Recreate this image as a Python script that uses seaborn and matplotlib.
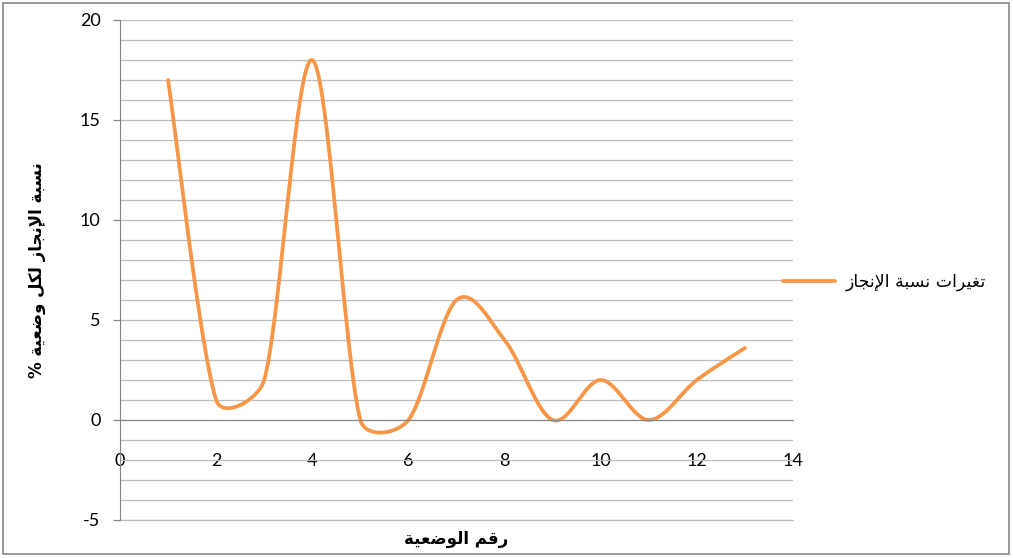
import numpy as np
import pandas as pd
import seaborn as sns
import matplotlib.pyplot as plt
from matplotlib.ticker import MultipleLocator
from matplotlib.patches import Rectangle

# data
position = [1, 2, 3, 4, 5, 6, 7, 8, 9, 10, 11, 12, 13]
rate = [17, 1, 2, 18, 0, 0, 6, 4, 0, 2, 0, 2, 3.6]

x_label = 'رقم الوضعية'
y_label = 'نسبة الإنجاز لكل وضعية %'
series_name = 'تغيرات نسبة الإنجاز'
x_ticks = list(range(0, 15, 2))
y_ticks = list(range(-5, 21, 5))

# matplotlib has no arabic shaping, so pick presentation forms by hand
# letter -> (first presentation form, joins on both sides)
AR = {
    'ا': (0xFE8D, False), 'إ': (0xFE87, False), 'ب': (0xFE8F, True),
    'ة': (0xFE93, False), 'ت': (0xFE95, True), 'ج': (0xFE9D, True),
    'ر': (0xFEAD, False), 'ز': (0xFEAF, False), 'س': (0xFEB1, True),
    'ض': (0xFEBD, True), 'ع': (0xFEC9, True), 'غ': (0xFECD, True),
    'ق': (0xFED5, True), 'ك': (0xFED9, True), 'ل': (0xFEDD, True),
    'م': (0xFEE1, True), 'ن': (0xFEE5, True), 'و': (0xFEED, False),
    'ي': (0xFEF1, True),
}
LAMALEF = {'ا': 0xFEFB, 'إ': 0xFEF9}


def shape(s):
    out = []
    i = 0
    while i < len(s):
        c = s[i]
        if c not in AR:
            out.append(c)
            i += 1
            continue
        prev = s[i - 1] if i > 0 else ''
        nxt = s[i + 1] if i + 1 < len(s) else ''
        joins_prev = prev in AR and AR[prev][1]
        if c == 'ل' and nxt in LAMALEF:
            out.append(chr(LAMALEF[nxt] + (1 if joins_prev else 0)))
            i += 2
            continue
        base, dual = AR[c]
        joins_next = dual and nxt in AR
        out.append(chr(base + (1 if joins_prev else 0) + (2 if joins_next else 0)))
        i += 1
    return ''.join(reversed(out))


# excel-like smoothed line (bezier through the points, handles clamped)
def smooth(xs, ys, sx, sy, k=0.4, n=40):
    p = np.column_stack([np.asarray(xs, float) * sx, np.asarray(ys, float) * sy])
    m = len(p)
    t = np.linspace(0, 1, n)[:, None]
    parts = []
    for i in range(m - 1):
        p0, p1, p2, p3 = p[max(i - 1, 0)], p[i], p[i + 1], p[min(i + 2, m - 1)]
        seg = np.linalg.norm(p2 - p1)
        h1 = (p2 - p0) / 6
        h2 = (p3 - p1) / 6
        if np.linalg.norm(h1) > k * seg:
            h1 = h1 / np.linalg.norm(h1) * k * seg
        if np.linalg.norm(h2) > k * seg:
            h2 = h2 / np.linalg.norm(h2) * k * seg
        c1, c2 = p1 + h1, p2 - h2
        b = ((1 - t) ** 3) * p1 + 3 * ((1 - t) ** 2) * t * c1 + 3 * (1 - t) * t ** 2 * c2 + t ** 3 * p2
        parts.append(b if i == 0 else b[1:])
    b = np.vstack(parts)
    return b[:, 0] / sx, b[:, 1] / sy


sns.set_style('white')
plt.rcParams['font.family'] = ['Lato', 'DejaVu Sans']
plt.rcParams['axes.unicode_minus'] = False

fig = plt.figure(figsize=(10.13, 5.58), dpi=100)
ax = fig.add_axes([120 / 1013, 1 - 520 / 558, 673 / 1013, 500 / 558])

cx, cy = smooth(position, rate, 673 / 14, 500 / 25)
df = pd.DataFrame({'x': cx, 'y': cy})
sns.lineplot(data=df, x='x', y='y', sort=False, estimator=None, color='#F79646',
             lw=2.7, label=shape(series_name), ax=ax)

ax.set_xlim(0, 14)
ax.set_ylim(-5, 20)
ax.set_xticks(x_ticks)
ax.set_yticks(y_ticks)
ax.yaxis.set_minor_locator(MultipleLocator(1))
ax.grid(False)
ax.grid(True, axis='y', which='both', color='#bdbdbd', lw=0.9)
ax.axhline(-5, color='#bdbdbd', lw=0.9, clip_on=False, zorder=0.5)
ax.set_axisbelow(True)

for s in ['top', 'right']:
    ax.spines[s].set_visible(False)
ax.spines['bottom'].set_position(('data', 0))
ax.spines['bottom'].set_color('#868686')
ax.spines['left'].set_color('#868686')

ax.tick_params(axis='x', direction='out', length=6, width=0.9, color='#868686',
               pad=18, labelsize=13, labelcolor='black')
ax.tick_params(axis='y', which='major', direction='out', length=5, width=0.9,
               color='#868686', pad=9, labelsize=13, left=True, labelcolor='black')
ax.tick_params(axis='y', which='minor', length=0)

ax.set_xlabel(shape(x_label), family='DejaVu Sans', fontweight='bold', fontsize=12,
              color='black')
ax.set_ylabel(shape(y_label), family='DejaVu Sans', fontweight='bold', fontsize=12,
              color='black')
ax.xaxis.set_label_coords(0.5, -0.02)
ax.yaxis.set_label_coords(-0.11, 0.5)

leg = ax.legend(loc='center left', bbox_to_anchor=(0.985, 0.476), frameon=False,
                borderpad=0, borderaxespad=0, handlelength=3, handletextpad=0.6,
                prop={'family': 'DejaVu Sans', 'size': 12.5})
for txt in leg.get_texts():
    txt.set_color('black')

fig.patches.append(Rectangle((3 / 1013, 4 / 558), 1006 / 1013, 551 / 558,
                             transform=fig.transFigure, fill=False,
                             ec='#868686', lw=1.2))

fig.savefig('out.png', dpi=100)
